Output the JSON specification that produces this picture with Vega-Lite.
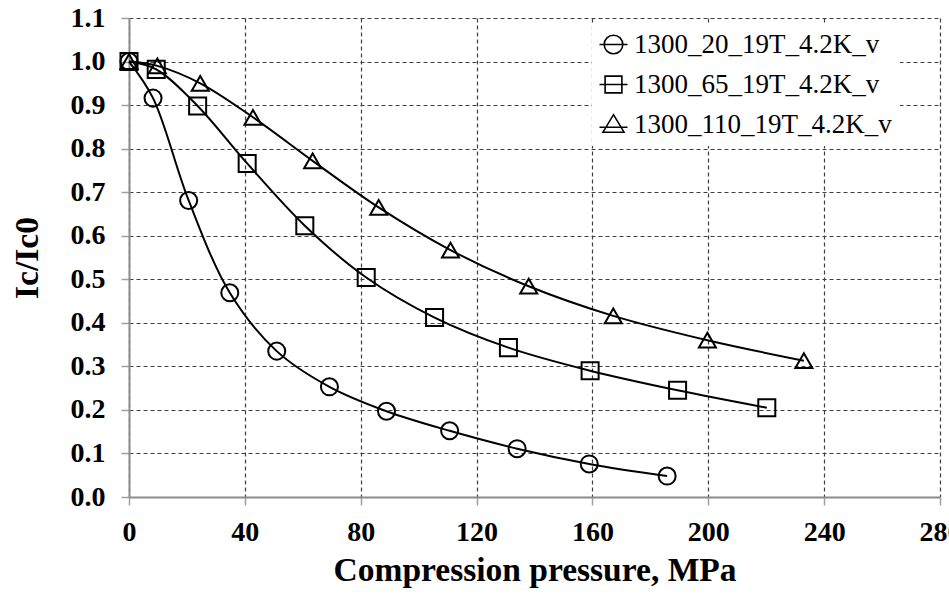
{
  "$schema": "https://vega.github.io/schema/vega-lite/v6.json",
  "width": 811,
  "height": 479,
  "autosize": "none",
  "padding": {"left": 129, "top": 18, "right": 9, "bottom": 99},
  "background": "white",
  "config": {
    "view": {"stroke": null},
    "font": "Liberation Serif",
    "axis": {
      "labelFont": "Liberation Serif",
      "titleFont": "Liberation Serif",
      "labelFontWeight": "bold",
      "titleFontWeight": "bold",
      "labelFontSize": 28,
      "titleFontSize": 33.5,
      "labelColor": "black",
      "titleColor": "black",
      "domainColor": "#8c8c8c",
      "domainWidth": 2,
      "tickColor": "#a0a0a0",
      "tickWidth": 1.5,
      "tickSize": 8,
      "gridColor": "#404040",
      "gridDash": [4, 3],
      "gridWidth": 1.2
    }
  },
  "data": {
    "values": [
      {"series": "1300_20_19T_4.2K_v", "p": 0, "ic": 1.0},
      {"series": "1300_20_19T_4.2K_v", "p": 8.3, "ic": 0.916},
      {"series": "1300_20_19T_4.2K_v", "p": 20.6, "ic": 0.681},
      {"series": "1300_20_19T_4.2K_v", "p": 34.8, "ic": 0.469},
      {"series": "1300_20_19T_4.2K_v", "p": 51.0, "ic": 0.335},
      {"series": "1300_20_19T_4.2K_v", "p": 69.2, "ic": 0.253},
      {"series": "1300_20_19T_4.2K_v", "p": 88.9, "ic": 0.197},
      {"series": "1300_20_19T_4.2K_v", "p": 110.7, "ic": 0.152},
      {"series": "1300_20_19T_4.2K_v", "p": 134.0, "ic": 0.111},
      {"series": "1300_20_19T_4.2K_v", "p": 158.9, "ic": 0.076},
      {"series": "1300_20_19T_4.2K_v", "p": 185.8, "ic": 0.048},
      {"series": "1300_65_19T_4.2K_v", "p": 0, "ic": 1.0},
      {"series": "1300_65_19T_4.2K_v", "p": 9.4, "ic": 0.982},
      {"series": "1300_65_19T_4.2K_v", "p": 23.7, "ic": 0.898},
      {"series": "1300_65_19T_4.2K_v", "p": 40.8, "ic": 0.766},
      {"series": "1300_65_19T_4.2K_v", "p": 60.7, "ic": 0.623},
      {"series": "1300_65_19T_4.2K_v", "p": 81.9, "ic": 0.504},
      {"series": "1300_65_19T_4.2K_v", "p": 105.5, "ic": 0.412},
      {"series": "1300_65_19T_4.2K_v", "p": 131.0, "ic": 0.343},
      {"series": "1300_65_19T_4.2K_v", "p": 159.2, "ic": 0.29},
      {"series": "1300_65_19T_4.2K_v", "p": 189.4, "ic": 0.245},
      {"series": "1300_65_19T_4.2K_v", "p": 220.2, "ic": 0.205},
      {"series": "1300_110_19T_4.2K_v", "p": 0, "ic": 1.0},
      {"series": "1300_110_19T_4.2K_v", "p": 9.8, "ic": 0.99},
      {"series": "1300_110_19T_4.2K_v", "p": 24.6, "ic": 0.95},
      {"series": "1300_110_19T_4.2K_v", "p": 42.8, "ic": 0.872},
      {"series": "1300_110_19T_4.2K_v", "p": 63.4, "ic": 0.772},
      {"series": "1300_110_19T_4.2K_v", "p": 86.2, "ic": 0.665},
      {"series": "1300_110_19T_4.2K_v", "p": 111.0, "ic": 0.567},
      {"series": "1300_110_19T_4.2K_v", "p": 138.0, "ic": 0.484},
      {"series": "1300_110_19T_4.2K_v", "p": 167.2, "ic": 0.416},
      {"series": "1300_110_19T_4.2K_v", "p": 199.7, "ic": 0.36},
      {"series": "1300_110_19T_4.2K_v", "p": 233.0, "ic": 0.313}
    ]
  },
  "encoding": {
    "x": {
      "field": "p",
      "type": "quantitative",
      "title": "Compression pressure, MPa",
      "scale": {"domain": [0, 280], "nice": false},
      "axis": {
        "values": [0, 40, 80, 120, 160, 200, 240, 280],
        "labelPadding": 13,
        "titlePadding": 8,
        "labelFlush": false,
        "labelOverlap": false
      }
    },
    "y": {
      "field": "ic",
      "type": "quantitative",
      "title": "Ic/Ic0",
      "scale": {"domain": [0, 1.1], "nice": false},
      "axis": {
        "values": [0, 0.1, 0.2, 0.3, 0.4, 0.5, 0.6, 0.7, 0.8, 0.9, 1.0, 1.1],
        "format": ".1f",
        "labelPadding": 16,
        "titlePadding": 26,
        "labelFlush": false,
        "labelOverlap": false
      }
    }
  },
  "layer": [
    {
      "mark": {"type": "line", "color": "black", "strokeWidth": 2, "interpolate": "catmull-rom"},
      "encoding": {"detail": {"field": "series"}}
    },
    {
      "mark": {"type": "point", "filled": false, "color": "black", "strokeWidth": 2, "size": 290, "opacity": 1},
      "encoding": {
        "shape": {
          "field": "series",
          "type": "nominal",
          "scale": {
            "domain": ["1300_20_19T_4.2K_v", "1300_65_19T_4.2K_v", "1300_110_19T_4.2K_v"],
            "range": ["circle", "square", "triangle-up"]
          },
          "legend": null
        }
      }
    },
    {
      "transform": [{"filter": "datum.p < 0"}],
      "mark": {"type": "point", "filled": false, "color": "black", "strokeWidth": 1.6, "size": 400, "opacity": 1},
      "encoding": {
        "shape": {
          "field": "series",
          "type": "nominal",
          "scale": {
            "domain": ["1300_20_19T_4.2K_v", "1300_65_19T_4.2K_v", "1300_110_19T_4.2K_v"],
            "range": [
              "M-1.4,0L1.4,0M0.93,0A0.93,0.93,0,1,1,-0.93,0A0.93,0.93,0,1,1,0.93,0",
              "M-1.4,0L1.4,0M-0.84,-0.84L0.84,-0.84L0.84,0.84L-0.84,0.84Z",
              "M-1.4,0.28L1.4,0.28M0,-0.98L1.05,0.77L-1.05,0.77Z"
            ]
          },
          "legend": {
            "title": null,
            "orient": "none",
            "legendX": 463,
            "legendY": 5,
            "padding": 8,
            "fillColor": "white",
            "strokeColor": null,
            "labelFont": "Liberation Serif",
            "labelFontSize": 27,
            "labelFontWeight": "normal",
            "labelColor": "black",
            "labelOffset": 7,
            "labelLimit": 400,
            "rowPadding": 12,
            "symbolSize": 400,
            "symbolStrokeWidth": 1.6,
            "symbolStrokeColor": "black",
            "symbolFillColor": "transparent"
          }
        }
      }
    }
  ],
  "resolve": {"scale": {"shape": "independent"}}
}
